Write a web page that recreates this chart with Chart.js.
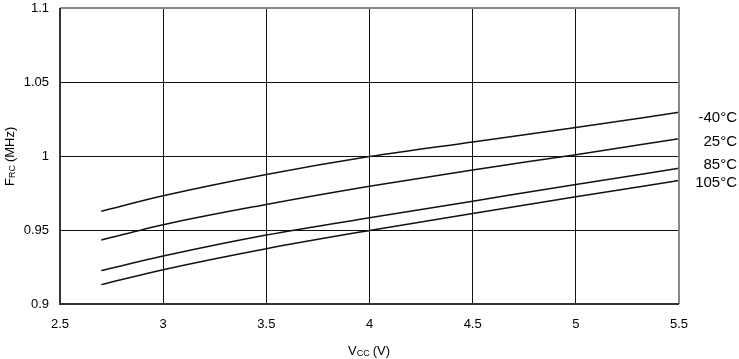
<!DOCTYPE html>
<html>
<head>
<meta charset="utf-8">
<script src="https://cdn.jsdelivr.net/npm/chart.js@4.4.0/dist/chart.umd.min.js"></script>
<style>
html,body{margin:0;padding:0;background:#fff;}
#wrap{width:739px;height:359px;position:relative;}
</style>
</head>
<body>
<div id="wrap"><canvas id="c" width="739" height="359"></canvas></div>
<script>
const vcc = [2.7, 3.0, 3.5, 4.0, 4.5, 5.0, 5.5];
const fM40 = [0.9627, 0.9731, 0.9875, 0.9996, 1.0095, 1.0193, 1.0295];
const f25  = [0.9432, 0.9536, 0.9673, 0.9796, 0.9906, 1.0009, 1.0117];
const f85  = [0.9226, 0.9324, 0.9466, 0.9583, 0.9695, 0.9807, 0.9917];
const f105 = [0.9131, 0.9232, 0.9374, 0.9497, 0.9612, 0.9724, 0.9834];
const seriesLabels = ['-40°C', '25°C', '85°C', '105°C'];
const labelY = [118, 142, 165, 183];
const xTicks = [2.5, 3, 3.5, 4, 4.5, 5, 5.5];
const yTicks = [0.9, 0.95, 1, 1.05, 1.1];

const series = [fM40, f25, f85, f105];
const datasets = series.map((s, i) => ({
  label: seriesLabels[i],
  data: vcc.map((x, j) => ({x: x, y: s[j]})),
  borderColor: '#111',
  borderWidth: 1.5,
  pointRadius: 0,
  fill: false,
  cubicInterpolationMode: 'monotone'
}));

const FONT = 'Liberation Sans, Arial, sans-serif';

const deco = {
  id: 'deco',
  afterDraw(chart) {
    const ctx = chart.ctx;
    const a = chart.chartArea;
    ctx.save();
    ctx.strokeStyle = '#888';
    ctx.lineWidth = 2;
    ctx.beginPath();
    ctx.moveTo(a.left, a.top); ctx.lineTo(a.right, a.top); ctx.lineTo(a.right, a.bottom);
    ctx.stroke();
    ctx.strokeStyle = '#333';
    ctx.beginPath();
    ctx.moveTo(a.left, a.top); ctx.lineTo(a.left, a.bottom); ctx.lineTo(a.right, a.bottom);
    ctx.stroke();
    ctx.fillStyle = '#000';
    ctx.font = '15px ' + FONT;
    ctx.textAlign = 'right';
    ctx.textBaseline = 'middle';
    seriesLabels.forEach((t, i) => ctx.fillText(t, 737, labelY[i]));
    ctx.textAlign = 'left';
    ctx.textBaseline = 'alphabetic';
    let x = 348, y = 355;
    ctx.font = '13px ' + FONT;
    ctx.fillText('V', x, y); x += ctx.measureText('V').width;
    ctx.font = '9px ' + FONT;
    ctx.fillText('CC', x, y + 1); x += ctx.measureText('CC').width + 3;
    ctx.font = '13px ' + FONT;
    ctx.fillText('(V)', x, y);
    ctx.translate(14, 186);
    ctx.rotate(-Math.PI / 2);
    x = 0; y = 0;
    ctx.font = '13px ' + FONT;
    ctx.fillText('F', x, y); x += ctx.measureText('F').width;
    ctx.font = '9px ' + FONT;
    ctx.fillText('RC', x, y + 1); x += ctx.measureText('RC').width + 3;
    ctx.font = '13px ' + FONT;
    ctx.fillText('(MHz)', x, y);
    ctx.restore();
  }
};

new Chart(document.getElementById('c'), {
  type: 'line',
  data: { datasets },
  options: {
    responsive: false,
    animation: false,
    layout: { padding: { top: 8, right: 60, left: 0, bottom: 0 } },
    plugins: { legend: { display: false }, tooltip: { enabled: false } },
    scales: {
      x: {
        type: 'linear',
        min: 2.5, max: 5.5,
        afterBuildTicks: s => { s.ticks = xTicks.map(v => ({value: v})); },
        afterFit: s => { s.height = 55; s.paddingLeft = 0; s.paddingRight = 0; },
        grid: { color: '#111', lineWidth: 1, drawTicks: false },
        border: { display: false },
        ticks: { color: '#000', font: { size: 13, family: FONT }, padding: 13, maxRotation: 0,
          callback: v => String(v) }
      },
      y: {
        type: 'linear',
        min: 0.9, max: 1.1,
        afterBuildTicks: s => { s.ticks = yTicks.map(v => ({value: v})); },
        afterFit: s => { s.width = 60; s.paddingTop = 0; s.paddingBottom = 0; },
        grid: { color: '#111', lineWidth: 1, drawTicks: false },
        border: { display: false },
        ticks: { color: '#000', font: { size: 13, family: FONT }, padding: 11,
          callback: v => String(parseFloat(Number(v).toFixed(2))) }
      }
    }
  },
  plugins: [deco]
});
</script>
</body>
</html>
